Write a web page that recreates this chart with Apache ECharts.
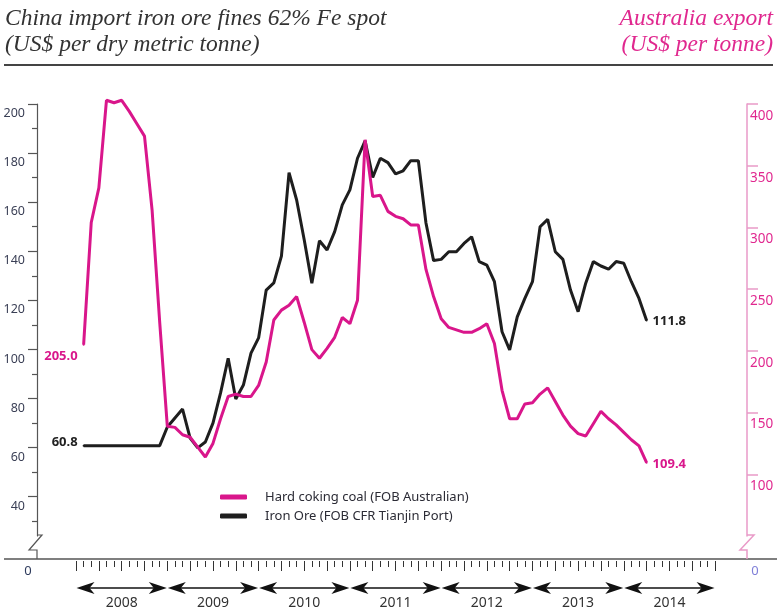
<!DOCTYPE html>
<html lang="en">
<head>
<meta charset="UTF-8">
<title>Iron ore and hard coking coal prices</title>
<script src="https://cdn.jsdelivr.net/npm/echarts@6.0.0/dist/echarts.min.js"></script>
<style>
    *{
        margin: 0;
        padding: 0;
    }
    body{
        background: #fff;
    }
    #chart{
        width: 777px;
        height: 613px;
    }
</style>
</head>
<body>
<div id="chart"></div>
<script>
// one point per month, the first one sits on the second month tick of 2008
var years = ['2008', '2009', '2010', '2011', '2012', '2013', '2014'];

// Hard coking coal, US$ per tonne (right axis)
var coal = [205.0, 304, 332, 403, 401, 403, 394, 384, 374, 314, 223, 139,
    138, 132, 130, 122, 114, 125, 145, 163, 165, 163, 163, 172,
    191, 225, 233, 237, 244, 223, 201, 194, 202, 211, 227, 222,
    241, 371, 325, 326, 313, 309, 307, 302, 302, 266, 244, 226,
    219, 217, 215, 215, 218, 222, 206, 168, 145, 145, 157, 158,
    165, 170, 159, 148, 139, 133, 131, 141, 151, 145, 140, 134,
    128, 123, 109.4];

// Iron ore, US$ per dry metric tonne (left axis)
var ore = [60.8, 60.8, 60.8, 60.8, 60.8, 60.8, 60.8, 60.8, 60.8, 60.8, 60.8, 68.4,
    72.1, 75.7, 63.9, 59.9, 62.3, 70.0, 82.3, 96.4, 79.8, 85.5, 98.5, 104.7,
    124.2, 127.1, 138, 172, 160.9, 144.6, 127, 144.3, 140.5, 148, 158.9, 165,
    177.9, 185, 170.1, 177.9, 176.1, 171.5, 172.8, 176.9, 176.9, 151.5, 136.2, 136.7,
    139.8, 139.8, 143.2, 145.9, 135.8, 134.4, 127.6, 107.2, 99.8, 113.3, 120.8, 127.6,
    150, 153, 139.8, 136.7, 124.2, 115.4, 127, 135.8, 134, 132.7, 135.8, 135.1,
    127.6, 120.8, 111.8];

var leftTicks = [40, 60, 80, 100, 120, 140, 160, 180, 200];
var leftMinor = [30, 50, 70, 90, 110, 130, 150, 170, 190];
var rightTicks = [100, 150, 200, 250, 300, 350, 400];

var pink = '#d9168b';
var pinkLight = '#e99ac8';
var black = '#1e1e1e';
var grey = '#555';

var monthTicks = [];
var quarterTicks = [];
for (var m = 0; m <= 84; m++) {
    monthTicks.push(m);
    if (m % 3 === 0) quarterTicks.push(m);
}
var yearCentres = [];
for (var y = 0; y < years.length; y++) {
    yearCentres.push(y * 12 + 6);
}

function endLabel(pos, color, offset) {
    return {
        show: true,
        position: pos,
        distance: 5,
        offset: offset,
        color: color,
        fontSize: 13,
        fontWeight: 'bold',
        fontFamily: 'Noto Sans',
        formatter: function (p) {
            return p.value[1].toFixed(1);
        }
    };
}

function buildData(values, color, firstOffset, lastOffset) {
    var out = [];
    for (var i = 0; i < values.length; i++) {
        var item = { value: [i + 1, values[i]] };
        if (i === 0) {
            item.symbol = 'circle';
            item.symbolSize = 2;
            item.label = endLabel('left', color, firstOffset);
        } else if (i === values.length - 1) {
            item.symbol = 'circle';
            item.symbolSize = 2;
            item.label = endLabel('right', color, lastOffset);
        }
        out.push(item);
    }
    return out;
}

var xMin = -5.13, xMax = 88.2;

function monthAxis(ticks, len, off) {
    return {
        type: 'value', position: 'bottom', min: xMin, max: xMax, offset: off,
        axisLine: { show: false, onZero: false },
        axisTick: { show: true, length: len, customValues: ticks, lineStyle: { color: '#333' } },
        axisLabel: { show: false },
        splitLine: { show: false }
    };
}

var chart = echarts.init(document.getElementById('chart'));

var option = {
    animation: false,
    textStyle: { fontFamily: 'Noto Sans' },
    grid: { left: 37, right: 30, top: 104, bottom: 77 },
    legend: {
        orient: 'vertical',
        left: 215,
        top: 485,
        itemWidth: 27,
        itemHeight: 5,
        itemGap: 5,
        icon: 'roundRect',
        textStyle: { fontSize: 13, lineHeight: 14, color: '#2b2b35', padding: [0, 0, 0, 13] },
        data: ['Hard coking coal (FOB Australian)', 'Iron Ore (FOB CFR Tianjin Port)']
    },
    xAxis: [
        monthAxis(monthTicks, 6, 25),
        monthAxis(quarterTicks, 10, 25),
        {
            type: 'value', position: 'bottom', min: xMin, max: xMax, offset: 23,
            axisLine: { show: false, onZero: false },
            axisTick: { show: false },
            axisLabel: {
                customValues: yearCentres,
                margin: 37,
                fontSize: 14,
                color: '#333',
                formatter: function (v) {
                    return years[Math.round((v - 6) / 12)];
                }
            },
            splitLine: { show: false }
        }
    ],
    yAxis: [
        {
            type: 'value', position: 'left', min: 24, max: 200,
            axisLine: { show: true, onZero: false, lineStyle: { color: grey, width: 1.2 } },
            axisTick: { show: true, length: 9, customValues: leftTicks, lineStyle: { color: grey, width: 1.2 } },
            axisLabel: {
                customValues: leftTicks, margin: 12, verticalAlign: 'top', padding: [3, 0, 0, 0],
                color: '#3a3f55', fontSize: 12.5
            },
            splitLine: { show: false }
        },
        {
            type: 'value', position: 'left', min: 24, max: 200,
            axisLine: { show: false, onZero: false },
            axisTick: { show: true, length: 5, customValues: leftMinor, lineStyle: { color: grey, width: 1.2 } },
            axisLabel: { show: false },
            splitLine: { show: false }
        },
        {
            type: 'value', position: 'right', min: 50, max: 400,
            axisLine: { show: true, onZero: false, lineStyle: { color: pinkLight, width: 1.5 } },
            axisTick: { show: true, length: 11, customValues: rightTicks, lineStyle: { color: pinkLight, width: 1.5 } },
            axisLabel: {
                customValues: rightTicks, margin: 3, verticalAlign: 'top', padding: [5, 0, 0, 0],
                color: '#e0288f', fontSize: 13.5
            },
            splitLine: { show: false }
        }
    ],
    series: [
        {
            name: 'Iron Ore (FOB CFR Tianjin Port)',
            type: 'line',
            xAxisIndex: 0,
            yAxisIndex: 0,
            symbol: 'none',
            clip: false,
            lineStyle: { color: black, width: 3 },
            itemStyle: { color: black },
            data: buildData(ore, '#222', [0, -3], [0, 1])
        },
        {
            name: 'Hard coking coal (FOB Australian)',
            type: 'line',
            xAxisIndex: 0,
            yAxisIndex: 2,
            symbol: 'none',
            clip: false,
            lineStyle: { color: pink, width: 3 },
            itemStyle: { color: pink },
            data: buildData(coal, pink, [0, 12], [0, 2])
        }
    ]
};

chart.setOption(option);

// titles, broken axes, baseline and year arrows
var g = [];
var serif = 'italic 23.5px "Liberation Serif"';
g.push({ type: 'text', x: 5, y: 19, style: { text: 'China import iron ore fines 62% Fe spot', font: serif, fill: '#333', align: 'left', verticalAlign: 'middle' } });
g.push({ type: 'text', x: 5, y: 45, style: { text: '(US$ per dry metric tonne)', font: serif, fill: '#333', align: 'left', verticalAlign: 'middle' } });
g.push({ type: 'text', x: 773, y: 19, style: { text: 'Australia export', font: serif, fill: '#e0288f', align: 'right', verticalAlign: 'middle' } });
g.push({ type: 'text', x: 773, y: 45, style: { text: '(US$ per tonne)', font: serif, fill: '#e0288f', align: 'right', verticalAlign: 'middle' } });
g.push({ type: 'line', shape: { x1: 4, y1: 65, x2: 773, y2: 65 }, style: { stroke: '#444', lineWidth: 2 } });

g.push({ type: 'line', shape: { x1: 4, y1: 559, x2: 777, y2: 559 }, style: { stroke: grey, lineWidth: 1.5 } });
g.push({ type: 'polyline', shape: { points: [[37, 535], [42, 535], [29, 550], [37, 550], [37, 559]] }, style: { stroke: grey, lineWidth: 1.2, fill: null } });
g.push({ type: 'polyline', shape: { points: [[747, 535], [754, 535], [740, 550], [747, 550], [747, 559]] }, style: { stroke: pinkLight, lineWidth: 1.5, fill: null } });
g.push({ type: 'text', x: 28, y: 571, style: { text: '0', font: '13px "Noto Sans"', fill: '#2d3a5c', align: 'center', verticalAlign: 'middle' } });
g.push({ type: 'text', x: 755, y: 571, style: { text: '0', font: '13px "Noto Sans"', fill: '#7f7fd8', align: 'center', verticalAlign: 'middle' } });

var ay = 588;
for (var j = 0; j < years.length; j++) {
    var x0 = chart.convertToPixel({ xAxisIndex: 0 }, j * 12) + 0.5;
    var x1 = chart.convertToPixel({ xAxisIndex: 0 }, j * 12 + 12) - 0.5;
    g.push({ type: 'line', shape: { x1: x0 + 10, y1: ay, x2: x1 - 10, y2: ay }, style: { stroke: '#111', lineWidth: 1.5 } });
    g.push({ type: 'polygon', shape: { points: [[x0, ay], [x0 + 18, ay - 6], [x0 + 13, ay], [x0 + 18, ay + 6]] }, style: { fill: '#111' } });
    g.push({ type: 'polygon', shape: { points: [[x1, ay], [x1 - 18, ay - 6], [x1 - 13, ay], [x1 - 18, ay + 6]] }, style: { fill: '#111' } });
}

chart.setOption({ graphic: g });
</script>
</body>
</html>
